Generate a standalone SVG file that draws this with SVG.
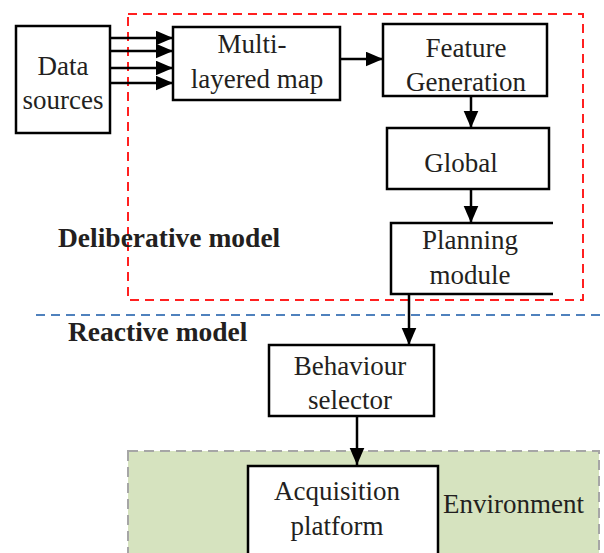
<svg xmlns="http://www.w3.org/2000/svg" width="604" height="553" viewBox="0 0 604 553">
<style>
.box{fill:#fff;stroke:#000;stroke-width:2.5}
.t{font-family:"Liberation Serif","Times New Roman",serif;font-size:27px;fill:#231f20;text-anchor:middle}
.b{font-family:"Liberation Serif","Times New Roman",serif;font-size:27.5px;font-weight:bold;fill:#231f20}
.c{stroke:#000;stroke-width:2.5;fill:none;marker-end:url(#ah)}
</style>
<defs>
<marker id="ah" markerWidth="8" markerHeight="7" refX="7" refY="3" orient="auto" markerUnits="strokeWidth">
<path d="M0,0 L7,3 L0,6 z" fill="#000"/>
</marker>
</defs>
<g id="environment">
<rect x="128" y="451" width="471" height="110" fill="#d6e3bf" stroke="#a6a6a6" stroke-width="2" stroke-dasharray="10,6"/>
<text class="t" x="443" y="513" style="text-anchor:start">Environment</text>
</g>
<g id="deliberative">
<rect x="128" y="14" width="455" height="286" fill="none" stroke="#ff2020" stroke-width="2" stroke-dasharray="9,6"/>
<text class="b" x="58" y="247">Deliberative model</text>
</g>
<g id="reactive-line">
<line x1="36" y1="315" x2="604" y2="315" stroke="#4f81bd" stroke-width="2" stroke-dasharray="9,6"/>
<text class="b" x="68" y="341">Reactive model</text>
</g>
<g id="data-sources">
<rect class="box" x="16" y="26" width="94" height="107"/>
<text class="t" x="63" y="75">Data</text>
<text class="t" x="63" y="109">sources</text>
</g>
<g id="multi-layered-map">
<rect class="box" x="173" y="27" width="167" height="73"/>
<text class="t" x="252" y="53">Multi-</text>
<text class="t" x="257" y="88">layered map</text>
</g>
<g id="feature-generation">
<rect class="box" x="383" y="24" width="164" height="72"/>
<text class="t" x="466" y="57">Feature</text>
<text class="t" x="466" y="91">Generation</text>
</g>
<g id="global">
<rect class="box" x="387" y="128" width="162" height="61"/>
<text class="t" x="461" y="172">Global</text>
</g>
<g id="planning-module">
<rect x="391" y="223" width="162" height="71" fill="#fff"/>
<path d="M553,223 H391 V294 H553" fill="none" stroke="#000" stroke-width="2.5"/>
<text class="t" x="470" y="249">Planning</text>
<text class="t" x="470" y="284">module</text>
</g>
<g id="behaviour-selector">
<rect class="box" x="269" y="345" width="165" height="71"/>
<text class="t" x="350" y="375">Behaviour</text>
<text class="t" x="350" y="409">selector</text>
</g>
<g id="acquisition-platform">
<rect class="box" x="248" y="466" width="190" height="95"/>
<text class="t" x="337" y="500">Acquisition</text>
<text class="t" x="337" y="535">platform</text>
</g>
<g id="connectors">
<line class="c" x1="110" y1="38" x2="173" y2="38"/>
<line class="c" x1="110" y1="51" x2="173" y2="51"/>
<line class="c" x1="110" y1="68" x2="173" y2="68"/>
<line class="c" x1="110" y1="83" x2="173" y2="83"/>
<line class="c" x1="340" y1="59" x2="383" y2="59"/>
<line class="c" x1="471" y1="96" x2="471" y2="128"/>
<line class="c" x1="471" y1="189" x2="471" y2="223"/>
<line class="c" x1="409" y1="294" x2="409" y2="345"/>
<line class="c" x1="357" y1="416" x2="357" y2="465"/>
</g>
</svg>
